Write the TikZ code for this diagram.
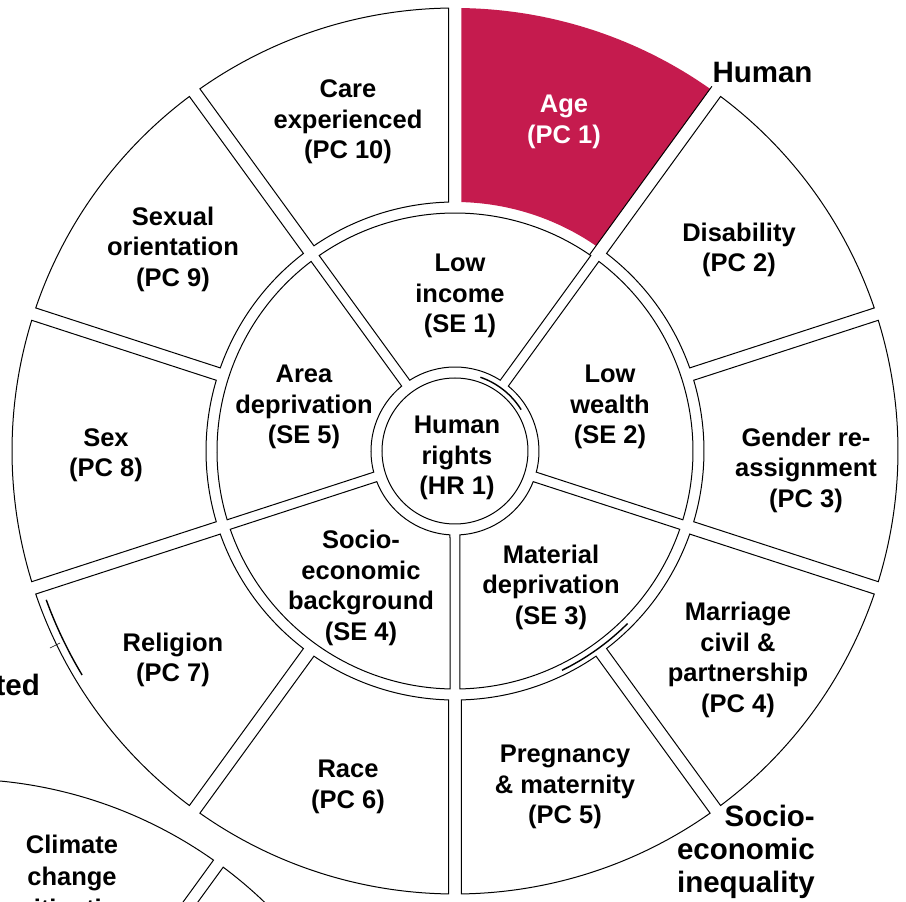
\documentclass[tikz,border=0pt]{standalone}
\usepackage{fontspec}
\setmainfont{Liberation Sans}
\usetikzlibrary{calc}
\definecolor{agered}{RGB}{197,27,78}
\tikzset{
  segline/.style={draw=black, line width=1pt, fill=white, line join=miter},
  agefill/.style={fill=agered, draw=none},
  lbl/.style={align=center, font=\bfseries\fontsize{25.5}{30.5}\selectfont, inner sep=0pt, text=black},
  outerlbl/.style={font=\bfseries\fontsize{29.5}{33}\selectfont, inner sep=0pt, text=black},
  artline/.style={draw=black, line width=1.4pt},
}
% #1 style, #2 start angle, #3 end angle, #4 inner radius, #5 outer radius, #6 half gap
\newcommand{\wseg}[6]{%
  \pgfmathsetmacro{\wOa}{#2+asin(#6/#5)}%
  \pgfmathsetmacro{\wOb}{#3-asin(#6/#5)}%
  \pgfmathsetmacro{\wIa}{#2+asin(#6/#4)}%
  \pgfmathsetmacro{\wIb}{#3-asin(#6/#4)}%
  \path[#1] (\wOa:#5pt) arc[start angle=\wOa, end angle=\wOb, radius=#5pt]
    -- (\wIb:#4pt) arc[start angle=\wIb, end angle=\wIa, radius=#4pt] -- cycle;
}
\begin{document}
\begin{tikzpicture}[x=1pt,y=1pt]
\useasboundingbox (-455,-451) rectangle (451,451);
\clip (-455,-451) rectangle (451,451);
\fill[white] (-455,-451) rectangle (451,451);

% ---- neighbouring wheel (bottom left) ----
\begin{scope}[shift={(-497,-771)}]
  \wseg{segline}{54}{90}{249}{443}{6}
  \wseg{segline}{18}{54}{249}{443}{6}
\end{scope}

% ---- outer ring: protected characteristics ----
\foreach \a in {18,90,126,162,198,234,270,306,342} {
  \wseg{segline}{\a}{\a+36}{249}{443}{6.5}
}
\wseg{agefill}{54}{90}{249}{443}{6.5}
\coordinate (ageA) at ($(54:236pt)+(144:6.5pt)$);
\coordinate (ageB) at ($(54:446pt)+(144:6.5pt)$);
\draw[line width=1pt] (ageA) -- (ageB);

% ---- middle ring: socio-economic ----
\foreach \a in {-90,-18,54,126,198} {
  \wseg{segline}{\a}{\a+72}{84}{238}{5}
}

% ---- centre ----
\node[circle, draw, line width=1pt, fill=white, minimum size=146pt, inner sep=0pt] (hrcircle) at (0,0) {};

% ---- stray strokes of the original ----
\draw[artline] (71:78pt) arc[start angle=71, end angle=32, radius=78pt];
\draw[artline] (-64:244pt) arc[start angle=-64, end angle=-45, radius=244pt];
\draw[artline] (200:435pt) arc[start angle=200, end angle=211, radius=435pt];
\coordinate (tickA) at (-405,-197);
\coordinate (tickB) at (-395,-192);
\draw[line width=0.6pt] (tickA) -- (tickB);

% ---- labels ----
\node[lbl, text=white] (pc1) at (109,329) {Age\\(PC 1)};
\node[lbl] (pc2) at (284,201) {Disability\\(PC 2)};
\node[lbl] (pc3) at (351,-19) {Gender re-\\assignment\\(PC 3)};
\node[lbl] (pc4) at (283,-209) {Marriage\\civil \&\\partnership\\(PC 4)};
\node[lbl] (pc5) at (110,-336) {Pregnancy\\\& maternity\\(PC 5)};
\node[lbl] (pc6) at (-107,-336) {Race\\(PC 6)};
\node[lbl] (pc7) at (-282,-209) {Religion\\(PC 7)};
\node[lbl] (pc8) at (-349,-4) {Sex\\(PC 8)};
\node[lbl] (pc9) at (-282,202) {Sexual\\orientation\\(PC 9)};
\node[lbl] (pc10) at (-107,329) {Care\\experienced\\(PC 10)};

\node[lbl] (se1) at (5,155) {Low\\income\\(SE 1)};
\node[lbl] (se2) at (155,44) {Low\\wealth\\(SE 2)};
\node[lbl] (se3) at (96,-136) {Material\\deprivation\\(SE 3)};
\node[lbl] (se4) at (-94,-137) {Socio-\\economic\\background\\(SE 4)};
\node[lbl] (se5) at (-151,44) {Area\\deprivation\\(SE 5)};

\node[lbl] (hr) at (2,-7) {Human\\rights\\(HR 1)};

% ---- labels of neighbouring wheels ----
\node[outerlbl] (humanlbl) at (307.5,378.5) {Human};
\node[outerlbl, align=right, anchor=east] (seilbl) at (360,-401) {Socio-\\economic\\inequality};
\node[outerlbl, anchor=base east] (tedlbl) at (-415,-245) {ted};
\node[lbl, anchor=north, font=\bfseries\fontsize{25.5}{32}\selectfont] (climlbl) at (-383,-384) {Climate\\change\\mitigation};
\end{tikzpicture}
\end{document}
